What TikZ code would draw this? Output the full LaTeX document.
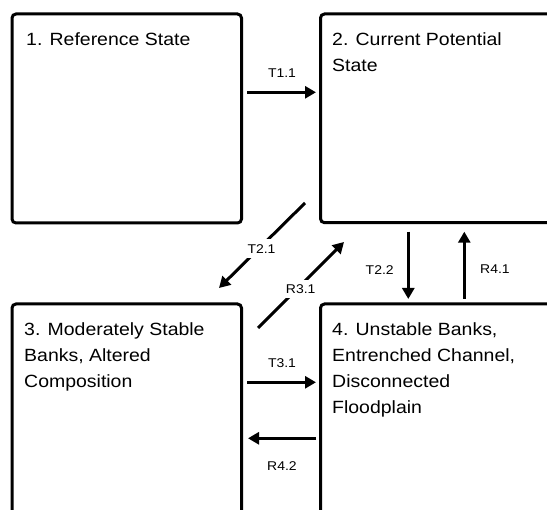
\documentclass[tikz,border=0pt]{standalone}
\usepackage{fontspec}
\setmainfont{Liberation Sans}[FakeStretch=1.1]
\usetikzlibrary{arrows.meta}
\tikzset{
  statebox/.style={draw=black, line width=3pt, rounded corners=4pt},
  statetext/.style={anchor=base west, inner sep=0pt, align=left,
    font=\fontsize{17.7}{25.7}\selectfont},
  conn/.style={line width=3pt, -{Triangle[length=11pt,width=12pt]}},
  lbl/.style={inner sep=0pt, font=\fontsize{12.7}{15}\selectfont},
  gaplbl/.style={lbl, fill=white, inner sep=5pt},
}
\begin{document}
\begin{tikzpicture}[x=1pt,y=-1pt]
\clip (0,0) rectangle (547,510);
\fill[white] (0,0) rectangle (547,510);
% boxes
\draw[statebox] (12,14) rectangle (241.5,223);
\draw[statebox] (320.5,14) rectangle (575,222.7);
\draw[statebox] (12,304) rectangle (241.5,545);
\draw[statebox] (320.5,304) rectangle (575,545);
% texts (base anchor = baseline of the last line)
\node[statetext] (s1) at (26,46) {1. Reference State};
\node[statetext] (s2) at (332,71.7) {2. Current Potential\\State};
\node[statetext] (s3) at (24,387.4) {3. Moderately Stable\\Banks, Altered\\Composition};
\node[statetext] (s4) at (332,413.1) {4. Unstable Banks,\\Entrenched Channel,\\Disconnected\\Floodplain};
% connector end points
\coordinate (t11a) at (247,92.3);   \coordinate (t11b) at (316,92.3);
\coordinate (t21a) at (305,203);    \coordinate (t21b) at (219,288);
\coordinate (r31a) at (258,328);    \coordinate (r31b) at (344,242);
\coordinate (t22a) at (408.3,231.7);\coordinate (t22b) at (408.3,299);
\coordinate (r41a) at (464.3,299);  \coordinate (r41b) at (464.3,231.7);
\coordinate (t31a) at (247,382.3);  \coordinate (t31b) at (316,382.3);
\coordinate (r42a) at (316,438.3);  \coordinate (r42b) at (248,438.3);
% connectors
\draw[conn] (t11a) -- (t11b);
\draw[conn] (t21a) -- (t21b);
\draw[conn] (r31a) -- (r31b);
\draw[conn] (t22a) -- (t22b);
\draw[conn] (r41a) -- (r41b);
\draw[conn] (t31a) -- (t31b);
\draw[conn] (r42a) -- (r42b);
% labels
\node[lbl] (lt11) at (282,72.8) {T1.1};
\node[gaplbl] (lt21) at (261.5,248.7) {T2.1};
\node[gaplbl] (lr31) at (300.7,289) {R3.1};
\node[lbl] (lt22) at (379.7,270) {T2.2};
\node[lbl] (lr41) at (495,269) {R4.1};
\node[lbl] (lt31) at (282,363) {T3.1};
\node[lbl] (lr42) at (282,466) {R4.2};
\end{tikzpicture}
\end{document}
